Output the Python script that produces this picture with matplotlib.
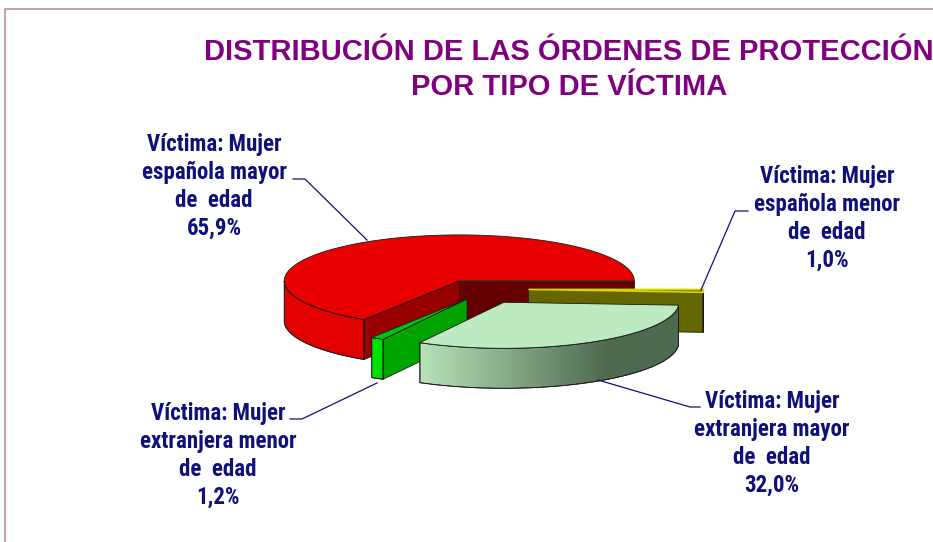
import numpy as np
import matplotlib.pyplot as plt
from matplotlib.patches import Polygon
from matplotlib.colors import to_rgb

# datos
etiquetas = [
    ["Víctima: Mujer", "española mayor", "de  edad"],
    ["Víctima: Mujer", "extranjera menor", "de  edad"],
    ["Víctima: Mujer", "extranjera mayor", "de  edad"],
    ["Víctima: Mujer", "española menor", "de  edad"],
]
porcentajes = [65.9, 1.2, 32.0, 1.0]
explode = [0.2, 0.1, 0.33, 0.3]

titulo = ["DISTRIBUCIÓN DE LAS ÓRDENES DE PROTECCIÓN", "POR TIPO DE VÍCTIMA"]

# colores: tapa, pared (izq, der), cara de corte (inicio, fin)
col_top = ['#e80000', '#00c800', '#bdeac0', '#7a7a00']
col_side = [('#e20000', '#e20000'), ('#00e000', '#00e000'),
            ('#b8e2b8', '#4e6a50'), ('#666600', '#666600')]
col_cut = [('#640000', '#990000'), ('#00a400', '#00a400'),
           ('#6a8a6a', '#6a8a6a'), ('#666600', '#666600')]

plt.rcParams['font.family'] = ['Liberation Sans Narrow', 'Roboto Condensed', 'DejaVu Sans']

fig = plt.figure(figsize=(9.33, 5.42), dpi=100)
ax = fig.add_axes([0, 0, 1, 1])
ax.axis('off')

# geometria del pastel 3D (en pixeles)
cx, cy = 476, 289
rx, ry, h = 175, 46, 40
ec = '#1a1a1a'


def pt(ox, oy, t, r=1.0, z=0.0):
    return (ox + rx * r * np.cos(t), oy - ry * r * np.sin(t) + z)


angs = np.concatenate([[0], np.cumsum(porcentajes)]) / sum(porcentajes) * 2 * np.pi
slices = []
for i in range(len(porcentajes)):
    a0, a1 = angs[i], angs[i + 1]
    mid = (a0 + a1) / 2
    ox, oy = pt(cx, cy, mid, explode[i])
    if i == 1:
        oy += 6  # la porcion pequeña cae un poco mas
    slices.append((a0, a1, ox, oy))

orden = [0, 3, 1, 2]
for i in orden:
    a0, a1, ox, oy = slices[i]
    # caras de corte visibles
    if np.cos(a0) > 1e-6:
        p = [pt(ox, oy, 0, 0), pt(ox, oy, a0), pt(ox, oy, a0, 1, h), pt(ox, oy, 0, 0, h)]
        ax.add_patch(Polygon(p, closed=True, fc=col_cut[i][0], ec=ec, lw=0.6))
    if np.cos(a1) < -1e-6:
        p = [pt(ox, oy, 0, 0), pt(ox, oy, a1), pt(ox, oy, a1, 1, h), pt(ox, oy, 0, 0, h)]
        ax.add_patch(Polygon(p, closed=True, fc=col_cut[i][1], ec=ec, lw=0.6))
    # pared exterior (parte frontal) con degradado
    w0, w1 = max(a0, np.pi), min(a1, 2 * np.pi)
    if w1 > w0:
        tt = np.linspace(w0, w1, 120)
        wall = [pt(ox, oy, t) for t in tt] + [pt(ox, oy, t, 1, h) for t in tt[::-1]]
        wall = np.array(wall)
        poly = Polygon(wall, closed=True, fc='none', ec=ec, lw=0.6, zorder=2)
        ax.add_patch(poly)
        x0, x1 = wall[:, 0].min(), wall[:, 0].max()
        y0, y1 = wall[:, 1].min(), wall[:, 1].max()
        f = np.clip(np.linspace(0, 1, 256) / 0.72, 0, 1)[:, None]
        grad = to_rgb(col_side[i][0]) + (np.array(to_rgb(col_side[i][1])) - to_rgb(col_side[i][0])) * f
        im = ax.imshow(grad[None, :, :], extent=(x0, x1, y1, y0), aspect='auto',
                       interpolation='bilinear', zorder=1)
        im.set_clip_path(poly)
        ax.add_patch(Polygon(wall, closed=True, fill=False, ec=ec, lw=0.6, zorder=2))
    # tapa
    tt = np.linspace(a0, a1, 200)
    p = [(ox, oy)] + [pt(ox, oy, t) for t in tt]
    ax.add_patch(Polygon(p, closed=True, fc=col_top[i], ec=ec, lw=0.6, zorder=2))
    if i == 3:
        ax.add_patch(Polygon(p, closed=True, fill=False, ec='#d8d800', lw=1.2, zorder=2))

ax.set_xlim(0, 933)
ax.set_ylim(542, 0)
ax.set_aspect('auto')

# titulo
for k, s in enumerate(titulo):
    ax.text(569, 60 + k * 35, s, color='#800080', fontsize=21, fontweight='bold',
            family=['Liberation Sans', 'DejaVu Sans'], ha='center', va='baseline')

# etiquetas
pos_lbl = [(214, 151), (218, 420), (772, 408), (827, 183)]
lineas = [[(367, 240), (305, 179), (293, 179)],
          [(377, 383), (302, 419), (290, 419)],
          [(598, 380), (690, 407), (700, 407)],
          [(701, 290), (735, 211), (748, 211)]]
navy = '#10107a'
for i in range(len(porcentajes)):
    x, y = pos_lbl[i]
    txt = etiquetas[i] + [f"{porcentajes[i]:.1f}".replace('.', ',') + '%']
    for k, s in enumerate(txt):
        ax.text(x, y + k * 28, s, color=navy, fontsize=16.5, fontweight='bold',
                ha='center', va='baseline')
    xs, ys = zip(*lineas[i])
    ax.plot(xs, ys, color=navy, lw=0.9, zorder=3)

# marco
ax.plot([4.5, 4.5, 933], [542, 9, 9], color='#c88aa8', lw=1.2)

fig.savefig('out.png', dpi=100)
